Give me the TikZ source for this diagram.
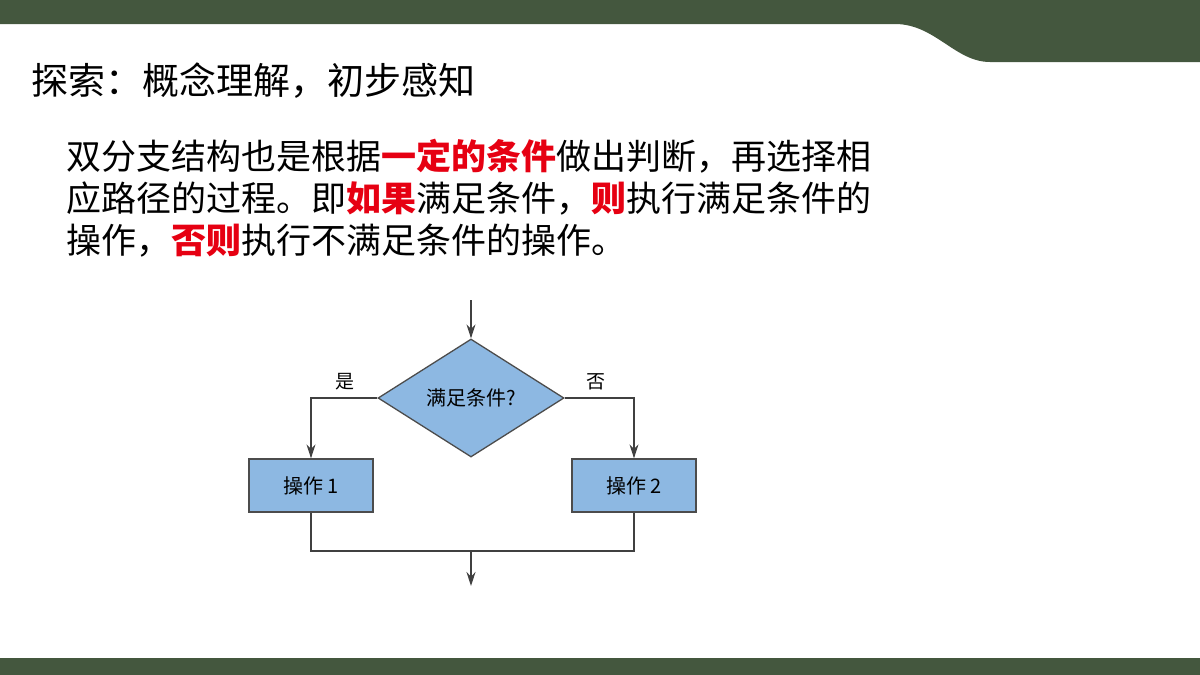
\documentclass[tikz,border=0pt]{standalone}
\usepackage{fontspec}
\setmainfont{Noto Sans CJK SC}
\usetikzlibrary{shapes.geometric,arrows.meta}
\definecolor{band}{HTML}{44573E}
\definecolor{boxfill}{HTML}{8DB8E2}
\definecolor{hl}{HTML}{E60012}
\begin{document}
\begin{tikzpicture}[x=1pt,y=-1pt,
  flow/.style={draw=black!75,line width=1.3pt},
  arr/.style={flow,-{Stealth[length=14pt,width=9pt]}},
  opbox/.style={draw=black!70,line width=1.3pt,fill=boxfill,minimum width=124pt,minimum height=53pt,font=\fontsize{20}{24}\selectfont,inner sep=0pt},
  lbl/.style={font=\fontsize{19}{22}\selectfont}]
\useasboundingbox (0,0) rectangle (1200,675);
\fill[band] (0,0) -- (1200,0) -- (1200,62) -- (990,62)
  .. controls (955,62) and (935,24) .. (895,24) -- (0,24) -- cycle;
\fill[band] (0,658) rectangle (1200,675);
\node[anchor=west,font=\fontsize{37}{42}\selectfont,inner sep=0pt] (title) at (31,81) {探索：概念理解，初步感知};
\node[anchor=north west,align=left,font=\fontsize{35}{42}\selectfont,inner sep=0pt] (body) at (66,139)
 {双分支结构也是根据\textbf{\color{hl}一定的条件}做出判断，再选择相\\
  应路径的过程。即\textbf{\color{hl}如果}满足条件，\textbf{\color{hl}则}执行满足条件的\\
  操作，\textbf{\color{hl}否则}执行不满足条件的操作。};
\node[diamond,aspect=1.58,draw=black!70,line width=1.3pt,fill=boxfill,minimum width=186pt,minimum height=118pt,inner sep=0pt,font=\fontsize{20}{24}\selectfont] (d) at (471,398) {满足条件?};
\node[opbox] (b1) at (311,485.5) {操作 1};
\node[opbox] (b2) at (634,485.5) {操作 2};
\coordinate (top) at (471,300);
\coordinate (m) at (471,551);
\coordinate (end) at (471,586);
\draw[arr] (top) -- (d.north);
\draw[arr] (d.west) -| (b1.north);
\draw[arr] (d.east) -| (b2.north);
\draw[flow] (b1.south) |- (m) -| (b2.south);
\draw[arr] (m) -- (end);
\node[lbl] (yes) at (345,382) {是};
\node[lbl] (no) at (596,382) {否};
\end{tikzpicture}
\end{document}
